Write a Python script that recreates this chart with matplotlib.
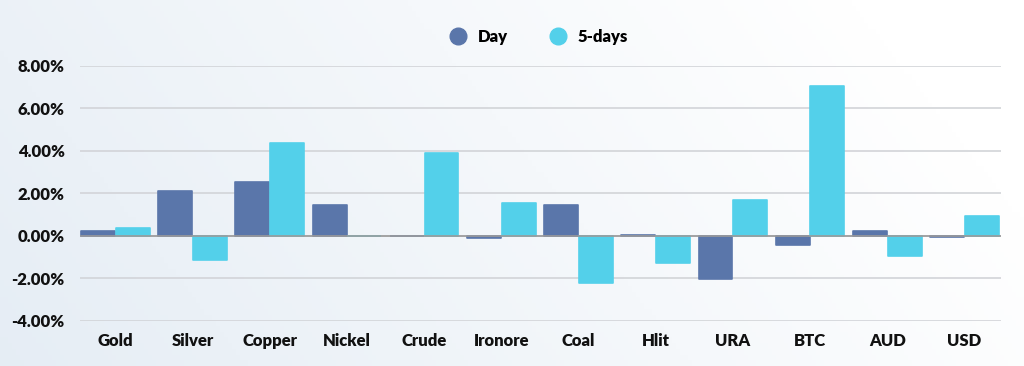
import matplotlib.pyplot as plt
import numpy as np
from matplotlib.ticker import FuncFormatter

categories = ['Gold', 'Silver', 'Copper', 'Nickel', 'Crude', 'Ironore',
              'Coal', 'Hlit', 'URA', 'BTC', 'AUD', 'USD']
day = [0.24, 2.12, 2.54, 1.44, -0.02, -0.08, 1.44, 0.05, -2.02, -0.42, 0.22, -0.05]
five_days = [0.38, -1.13, 4.38, -0.02, 3.90, 1.55, -2.20, -1.27, 1.70, 7.06, -0.92, 0.92]
series_names = ['Day', '5-days']

DAY_COLOR = '#5a76aa'
FIVE_COLOR = '#53d0ea'

plt.rcParams['font.family'] = ['Lato', 'DejaVu Sans']
WEIGHT = 'heavy'

fig = plt.figure(figsize=(10.24, 3.66), dpi=100)

# soft background gradient, bluish on the left fading to white
bg = fig.add_axes([0, 0, 1, 1], zorder=-10)
gx = np.linspace(0, 1, 256)
gy = np.linspace(0, 1, 64)
X, Y = np.meshgrid(gx, gy)
t = np.clip(X * 0.9 + Y * 0.25, 0, 1)
c0 = np.array([0.90, 0.93, 0.96])
c1 = np.array([1.0, 1.0, 1.0])
img = c0[None, None, :] * (1 - t[..., None]) + c1[None, None, :] * t[..., None]
bg.imshow(img, aspect='auto', extent=[0, 1, 0, 1], origin='lower')
bg.axis('off')

ax = fig.add_axes([0.078, 0.123, 0.900, 0.697])
ax.patch.set_alpha(0)

x = np.arange(len(categories))
w = 0.44
ax.bar(x - 0.225, day, w, color=DAY_COLOR, edgecolor=DAY_COLOR,
       linewidth=1.2, joinstyle='round', zorder=3, label=series_names[0])
ax.bar(x + 0.225, five_days, w, color=FIVE_COLOR, edgecolor=FIVE_COLOR,
       linewidth=1.2, joinstyle='round', zorder=3, label=series_names[1])

ax.set_xlim(-0.46, 11.48)
ax.set_ylim(-4, 8)
ax.set_yticks(np.arange(-4, 9, 2))
ax.yaxis.set_major_formatter(FuncFormatter(lambda v, p: f'{v:.2f}%'))
ax.grid(True, axis='y', color='#d2d4d8', linewidth=1.2, zorder=0)
ax.axhline(0, color='#9a9a9a', linewidth=1.2, zorder=4)

ax.set_xticks(x)
ax.set_xticklabels(categories)
for lbl in ax.get_xticklabels() + ax.get_yticklabels():
    lbl.set_fontweight(WEIGHT)
    lbl.set_fontsize(12)
    lbl.set_color('#111111')
ax.tick_params(axis='both', length=0)
ax.tick_params(axis='y', pad=11)
ax.tick_params(axis='x', pad=9)
for s in ax.spines.values():
    s.set_visible(False)

handles = [plt.Line2D([], [], marker='o', linestyle='', markersize=12,
                      color=c) for c in (DAY_COLOR, FIVE_COLOR)]
leg = fig.legend(handles, series_names, loc='center', bbox_to_anchor=(0.522, 0.898),
                 ncol=2, frameon=False, handletextpad=0.2, columnspacing=2.0,
                 prop={'weight': WEIGHT, 'size': 12})

fig.savefig('out.png', dpi=100)
